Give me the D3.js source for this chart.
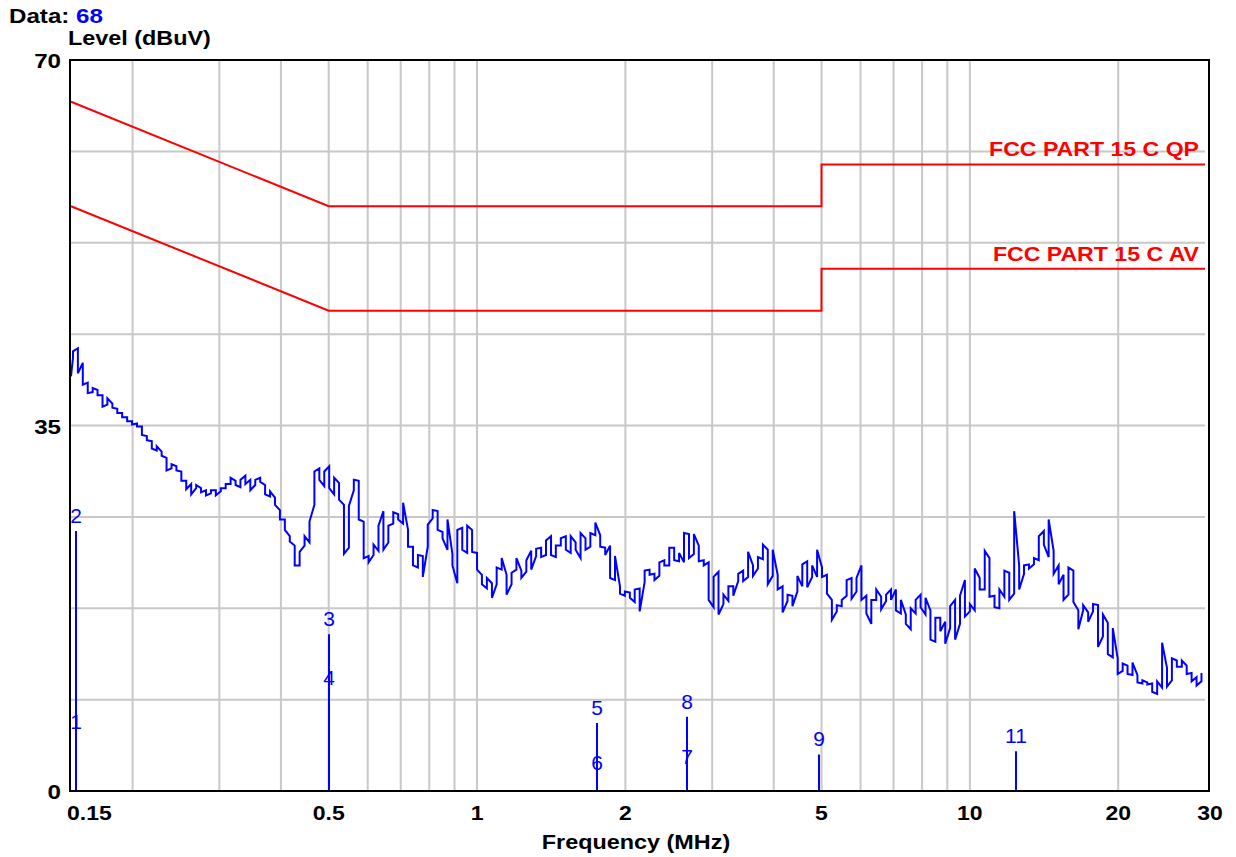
<!DOCTYPE html>
<html><head><meta charset="utf-8">
<script src="https://cdn.jsdelivr.net/npm/d3@7"></script>
<style>
html,body{margin:0;padding:0;background:#fff;}
svg{display:block;}
text{font-family:"Liberation Sans",Arial,Helvetica,sans-serif;}
</style></head><body>
<svg id="chart" width="1236" height="857"></svg>
<script>
// ---- conducted emission scan (dBuV vs MHz) ----
const dataId = "68";

// sweep frequencies (MHz)
const traceFreq = [0.15,
0.1514,0.1549,0.1585,0.1622,0.1660,0.1698,0.1738,0.1778,0.1820,0.1862,
0.1905,0.1950,0.1995,0.2042,0.2089,0.2138,0.2188,0.2239,0.2291,0.2344,
0.2399,0.2455,0.2512,0.2570,0.2630,0.2692,0.2754,0.2818,0.2884,0.2951,
0.3020,0.3090,0.3162,0.3236,0.3311,0.3388,0.3467,0.3548,0.3631,0.3715,
0.3802,0.3890,0.3981,0.4074,0.4169,0.4266,0.4365,0.4467,0.4571,0.4677,
0.4786,0.4898,0.5012,0.5129,0.5248,0.5370,0.5495,0.5623,0.5754,0.5888,
0.6026,0.6166,0.6310,0.6457,0.6607,0.6761,0.6918,0.7079,0.7244,0.7413,
0.7586,0.7762,0.7943,0.8128,0.8318,0.8511,0.8710,0.8913,0.9120,0.9333,
0.9550,0.9772,
1.000,1.023,1.047,1.072,1.096,1.122,1.148,1.175,1.202,1.230,
1.259,1.288,1.318,1.349,1.380,1.413,1.445,1.479,1.514,1.549,
1.585,1.622,1.660,1.698,1.738,1.778,1.820,1.862,1.905,1.950,
1.995,2.042,2.089,2.138,2.188,2.239,2.291,2.344,2.399,2.455,
2.512,2.570,2.630,2.692,2.754,2.818,2.884,2.951,3.020,3.090,
3.162,3.236,3.311,3.388,3.467,3.548,3.631,3.715,3.802,3.890,
3.981,4.074,4.169,4.266,4.365,4.467,4.571,4.677,4.786,4.898,
5.012,5.129,5.248,5.370,5.495,5.623,5.754,5.888,6.026,6.166,
6.310,6.457,6.607,6.761,6.918,7.079,7.244,7.413,7.586,7.762,
7.943,8.128,8.318,8.511,8.710,8.913,9.120,9.333,9.550,9.772,
10.00,10.23,10.47,10.72,10.96,11.22,11.48,11.75,12.02,12.30,
12.59,12.88,13.18,13.49,13.80,14.13,14.45,14.79,15.14,15.49,
15.85,16.22,16.60,16.98,17.38,17.78,18.20,18.62,19.05,19.50,
19.95,20.42,20.89,21.38,21.88,22.39,22.91,23.44,23.99,24.55,
25.12,25.70,26.30,26.92,27.54,28.18,28.84,29.51];

// highest reading inside each sweep bin (dBuV)
const traceMax = [39.7,
42.1,42.4,41.0,39.1,38.6,38.4,37.9,37.6,37.1,36.6,
36.2,35.8,35.4,35.2,34.9,34.0,33.5,33.0,32.5,31.9,
31.3,31.1,30.6,29.7,29.4,29.3,29.0,28.8,28.8,28.8,
29.0,29.4,30.0,29.7,29.8,30.2,29.8,29.8,30.0,29.3,
28.7,28.1,26.9,26.0,24.4,23.5,22.9,24.4,25.8,30.6,
30.9,30.6,31.1,30.0,29.5,27.4,27.3,29.8,29.7,25.8,
22.5,23.6,25.4,26.8,25.4,26.7,26.5,27.6,25.0,23.4,
22.6,22.5,25.5,26.9,26.8,24.8,26.0,22.7,25.0,25.2,
25.4,25.0,
22.8,20.7,20.4,19.9,21.4,22.3,20.7,20.9,22.3,21.1,
22.1,23.0,23.2,23.3,24.0,24.4,23.5,24.2,24.4,24.4,
23.8,24.7,24.2,24.7,25.7,24.5,23.3,23.5,22.5,19.6,
19.1,19.0,19.3,19.4,21.1,21.2,20.8,21.9,22.1,23.3,
23.3,22.8,24.7,24.6,24.6,23.5,22.1,21.9,20.5,21.0,
18.8,19.6,19.6,20.8,21.1,22.9,21.6,22.4,23.6,23.1,
23.1,20.7,19.6,18.8,18.7,20.6,21.7,22.0,21.6,23.1,
21.4,20.7,18.3,17.8,18.3,20.2,20.4,20.4,21.6,18.7,
18.3,19.3,18.6,18.8,19.3,19.3,18.3,16.9,17.5,18.3,
18.8,18.5,17.3,16.6,16.6,16.2,17.7,18.3,18.7,20.2,
17.9,21.3,20.4,23.0,22.3,18.7,19.3,21.1,20.9,26.8,
21.6,21.6,21.7,22.3,24.4,24.9,26.0,23.0,21.6,20.7,
21.4,21.1,17.3,17.8,17.1,17.9,17.8,16.9,16.1,15.6,
12.7,12.2,12.0,12.3,11.1,10.6,10.4,10.3,10.5,14.2,
11.8,12.7,12.5,12.5,12.0,11.3,10.9,11.3];

// lowest reading inside each sweep bin (dBuV)
const traceMin = [39.7,
41.5,40.0,38.9,38.1,38.2,37.9,36.8,37.0,36.7,36.2,
35.8,35.4,35.1,34.9,34.1,33.6,32.8,32.6,32.1,30.7,
30.9,30.7,29.7,28.9,28.4,29.0,28.6,28.3,28.5,28.3,
28.7,29.0,29.4,29.3,29.1,29.4,28.8,29.3,29.6,28.4,
28.2,27.4,26.0,25.0,23.9,21.6,21.6,23.5,23.8,27.4,
29.8,29.2,29.0,28.4,27.9,22.7,23.3,28.8,26.0,22.3,
21.9,22.6,23.0,23.1,23.8,25.6,26.0,25.6,23.4,21.6,
21.4,20.5,23.4,26.1,25.0,24.2,23.1,21.6,19.9,23.1,
22.8,22.9,
21.2,19.8,19.4,18.5,19.8,21.2,18.8,19.8,21.2,20.4,
21.0,21.2,22.5,22.4,22.6,22.6,22.4,23.5,23.1,22.8,
23.1,22.3,23.1,23.4,24.5,23.4,22.6,20.4,20.2,18.9,
18.7,18.5,18.1,17.2,20.0,20.7,20.2,20.6,21.6,21.6,
22.1,22.0,21.9,22.3,22.7,22.0,21.6,18.3,17.6,16.9,
17.9,18.2,18.7,20.1,20.1,20.5,20.6,21.3,22.2,19.8,
20.6,19.3,17.1,18.2,17.7,19.1,19.6,19.5,20.5,20.5,
20.5,18.9,16.4,17.2,17.7,18.7,18.4,19.1,18.3,17.0,
16.0,18.3,17.4,18.2,18.3,17.3,17.0,16.0,15.5,17.0,
17.6,16.9,14.5,14.3,15.3,14.1,15.6,14.5,16.0,16.7,
17.2,17.3,19.3,19.3,18.6,17.6,17.5,18.6,18.3,18.9,
19.3,20.8,21.3,21.7,22.1,23.6,22.4,20.8,19.8,18.3,
18.8,18.1,15.5,17.3,16.2,17.2,13.8,14.8,13.1,12.8,
11.2,11.5,11.2,11.1,10.4,10.3,10.2,9.5,9.3,9.9,
10.0,10.6,11.9,11.9,11.2,10.5,10.1,10.5];

// limit lines
const limitFreq = [0.15, 0.5, 5, 5, 30];
const qpLimit = [66, 56, 56, 60, 60];
const avLimit = [56, 46, 46, 50, 50];
const qpName = "FCC PART 15 C QP";
const avName = "FCC PART 15 C AV";

// final measurement markers
const markerId = ["1", "2", "3", "4", "5", "6", "7", "8", "9", "11"];
const markerFreq = [0.1536, 0.1536, 0.5, 0.5, 1.75, 1.75, 2.665, 2.665, 4.95, 12.39];
const markerLevel = [5.2, 24.9, 15.0, 9.4, 6.5, 1.2, 1.8, 7.1, 3.5, 3.8];

// axes
const xTickLabels = [0.15, 0.5, 1, 2, 5, 10, 20, 30];
const xGrid = [0.2,0.3,0.4,0.5,0.6,0.7,0.8,0.9,1,2,3,4,5,6,7,8,9,10,20];
const yTickLabels = [0, 35, 70];
const yGrid = [8.75, 17.5, 26.25, 35, 43.75, 52.5, 61.25];
const xTitle = "Frequency (MHz)";
const yTitle = "Level (dBuV)";

// ---- drawing ----
const svg = d3.select("#chart");
const frame = {l: 70, r: 1209, t: 60, b: 791};
const x = d3.scaleLog().domain([0.15, 30]).range([71, 1205]);
const y = d3.scaleLinear().domain([0, 70]).range([791, 60]);
const SX = 1.15;   // horizontal stretch of the lettering

function label(g, px, py, txt, opts) {
  const t = g.append("text")
    .attr("transform", `translate(${px},${py}) scale(${opts.sx || SX},1)`)
    .attr("text-anchor", opts.anchor || "start")
    .attr("font-size", opts.size)
    .attr("font-weight", opts.weight || "bold")
    .attr("fill", opts.fill || "#000")
    .text(txt);
  return t;
}

// grid
const grid = svg.append("g").attr("stroke", "#c8c8c8").attr("stroke-width", 2);
grid.selectAll("line.v").data(xGrid).join("line")
  .attr("x1", d => x(d)).attr("x2", d => x(d))
  .attr("y1", frame.t).attr("y2", frame.b);
grid.selectAll("line.h").data(yGrid).join("line")
  .attr("x1", frame.l).attr("x2", x(30))
  .attr("y1", d => y(d)).attr("y2", d => y(d));

// limit lines
const limLine = d3.line().x(d => x(d[0])).y(d => y(d[1]));
[qpLimit, avLimit].forEach(lim => {
  svg.append("path")
    .datum(limitFreq.map((f, i) => [f, lim[i]]))
    .attr("d", limLine)
    .attr("fill", "none").attr("stroke", "#ff0000").attr("stroke-width", 2);
});
label(svg, 1199, y(qpLimit[4]) - 8, qpName, {anchor: "end", size: 21, fill: "#ff0000", sx: 1.1});
label(svg, 1199, y(avLimit[4]) - 8, avName, {anchor: "end", size: 21, fill: "#ff0000", sx: 1.1});

// trace: each sweep bin drawn as a vertical stroke between its extremes
const pts = [];
let last = null;
traceFreq.forEach((f, i) => {
  const hi = traceMax[i], lo = traceMin[i];
  let seq = [hi, lo];
  if (last !== null && Math.abs(last - lo) < Math.abs(last - hi)) seq = [lo, hi];
  seq.forEach(v => pts.push([f, v]));
  last = seq[1];
});
svg.append("path")
  .datum(pts)
  .attr("d", d3.line().x(d => x(d[0])).y(d => y(d[1])))
  .attr("fill", "none").attr("stroke", "#0000ff").attr("stroke-width", 2)
  .attr("stroke-linejoin", "miter");

// markers
const mk = svg.append("g");
mk.selectAll("line").data(markerFreq).join("line")
  .attr("x1", d => Math.round(x(d))).attr("x2", d => Math.round(x(d)))
  .attr("y1", y(0)).attr("y2", (d, i) => y(markerLevel[i]))
  .attr("stroke", "#0000ff").attr("stroke-width", 2);
markerFreq.forEach((f, i) => {
  label(mk, Math.round(x(f)), y(markerLevel[i]) - 8, markerId[i],
    {anchor: "middle", size: 21, weight: "normal", fill: "#0000ff", sx: 1.0});
});

// frame
svg.append("rect")
  .attr("x", frame.l).attr("y", frame.t)
  .attr("width", frame.r - frame.l).attr("height", frame.b - frame.t)
  .attr("fill", "none").attr("stroke", "#000").attr("stroke-width", 2);

// axis labels
const ax = svg.append("g");
xTickLabels.forEach(v => {
  let anchor = "middle", px = x(v);
  if (v === 0.15) { anchor = "start"; px = 67; }
  if (v === 30) { px = 1210; }
  label(ax, px, 820, String(v), {anchor, size: 20});
});
yTickLabels.forEach(v => {
  label(ax, 61, y(v) + 8, String(v), {anchor: "end", size: 21});
});
label(ax, 636, 849, xTitle, {anchor: "middle", size: 20, sx: 1.17});
label(ax, 68, 45, yTitle, {anchor: "start", size: 20, sx: 1.17});

// header
const hdr = label(svg, 9, 23, "Data: ", {size: 21});
hdr.append("tspan").attr("fill", "#0000ff").text(dataId);
</script>
</body></html>
